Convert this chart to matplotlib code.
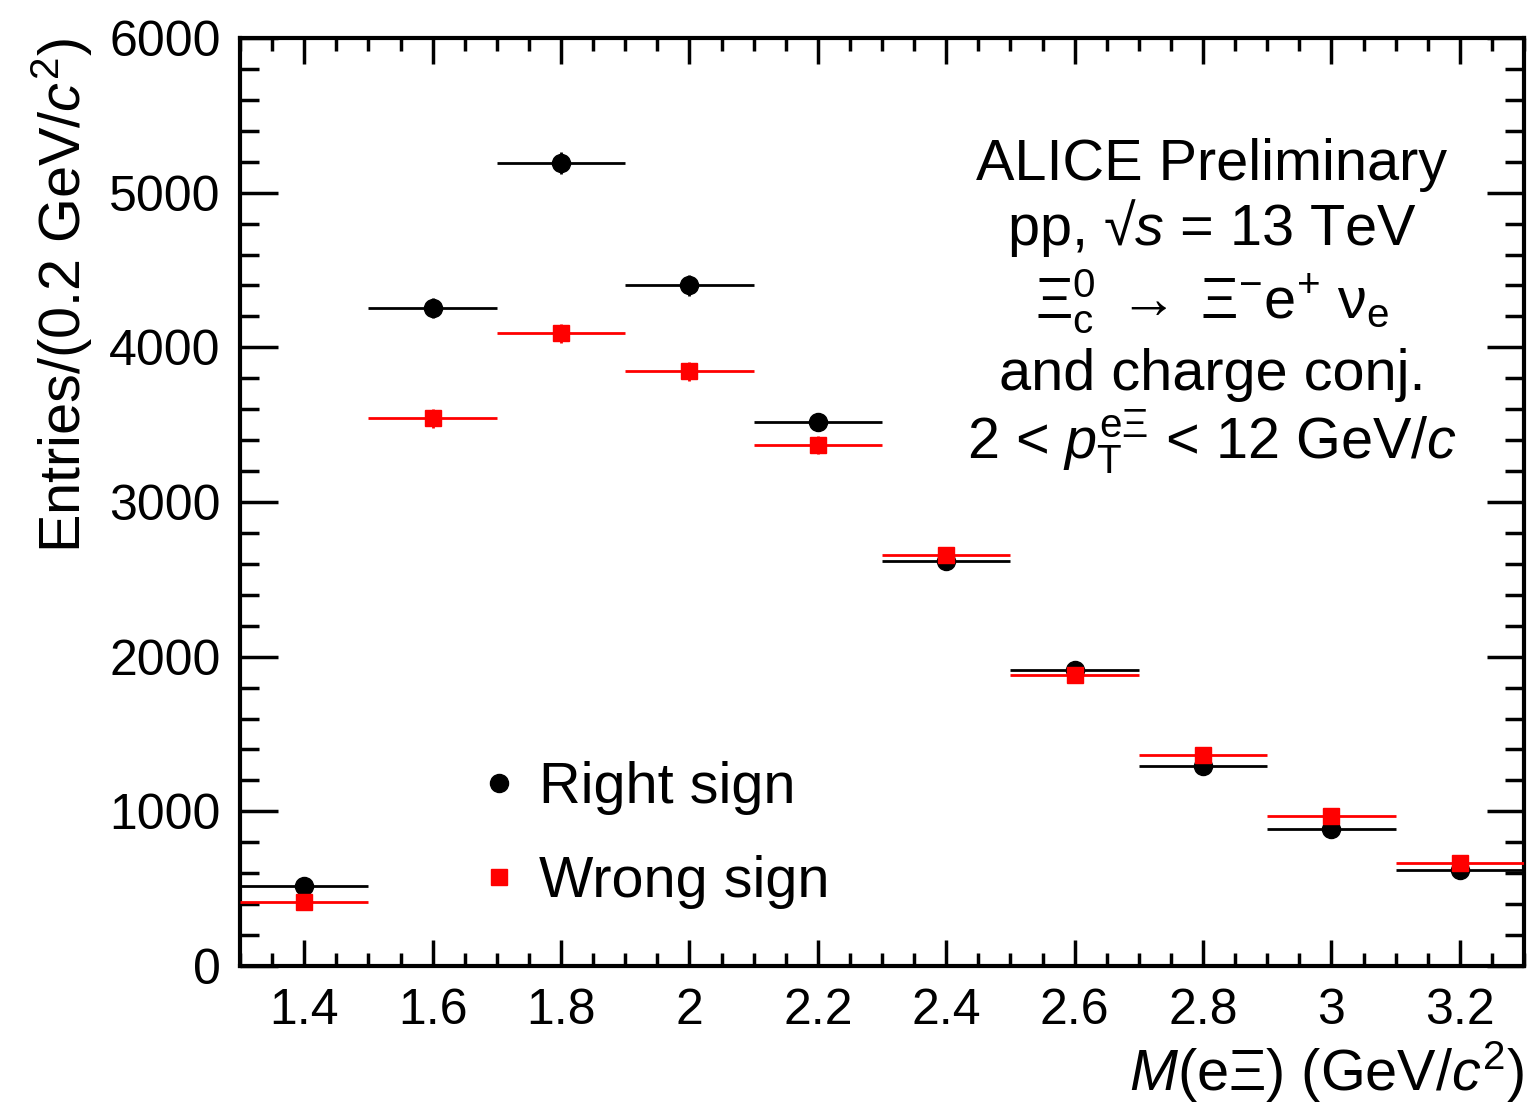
"""Xi_c0 -> Xi e nu: right-sign vs wrong-sign invariant mass (ALICE Preliminary)."""

import matplotlib
matplotlib.use("Agg")
import matplotlib.pyplot as plt
from matplotlib.lines import Line2D
from matplotlib.ticker import MultipleLocator, FuncFormatter

# bin centres (GeV/c^2) and half bin width
mass = [1.4, 1.6, 1.8, 2.0, 2.2, 2.4, 2.6, 2.8, 3.0, 3.2]
half_width = 0.1

right_sign = [515, 4255, 5190, 4400, 3515, 2620, 1915, 1295, 888, 622]
right_sign_err = [23, 65, 72, 66, 59, 51, 44, 36, 30, 25]

wrong_sign = [415, 3540, 4090, 3845, 3370, 2655, 1880, 1365, 970, 667]
wrong_sign_err = [20, 59, 64, 62, 58, 52, 43, 37, 31, 26]

plt.rcParams["font.family"] = ["Liberation Sans", "DejaVu Sans"]
plt.rcParams["mathtext.fontset"] = "custom"
plt.rcParams["mathtext.rm"] = "Liberation Sans"
plt.rcParams["mathtext.it"] = "Liberation Sans:italic"
plt.rcParams["mathtext.bf"] = "Liberation Sans:bold"

FS_TICK = 36
FS = 41.5

fig = plt.figure(figsize=(15.36, 11.15), dpi=100)
ax = fig.add_axes([240 / 1536, 1 - 966 / 1115, (1524 - 240) / 1536, (966 - 38) / 1115])

ax.errorbar(mass, right_sign, xerr=half_width, yerr=right_sign_err, fmt="o",
            color="black", ms=13, elinewidth=2, capsize=0, zorder=3)
ax.errorbar(mass, wrong_sign, xerr=half_width, yerr=wrong_sign_err, fmt="s",
            color="red", ms=12, elinewidth=2, capsize=0, zorder=4)

ax.set_xlim(1.3, 3.3)
ax.set_ylim(0, 6000)

ax.xaxis.set_major_locator(MultipleLocator(0.2))
ax.xaxis.set_minor_locator(MultipleLocator(0.05))
ax.yaxis.set_major_locator(MultipleLocator(1000))
ax.yaxis.set_minor_locator(MultipleLocator(200))
ax.xaxis.set_major_formatter(FuncFormatter(lambda v, p: f"{v:g}"))
ax.yaxis.set_major_formatter(FuncFormatter(lambda v, p: f"{v:.0f}"))

ax.tick_params(axis="both", which="both", direction="in", top=True, right=True,
               width=2.5, labelsize=FS_TICK, colors="black")
ax.tick_params(axis="x", which="major", length=19, pad=16)
ax.tick_params(axis="x", which="minor", length=9.5)
ax.tick_params(axis="y", which="major", length=27, pad=14)
ax.tick_params(axis="y", which="minor", length=13.5)
for sp in ax.spines.values():
    sp.set_linewidth(3)

ax.set_xlabel(r"$M$(e$\Xi$) (GeV/$c^{2}$)", fontsize=FS, loc="right", labelpad=4)
ax.set_ylabel(r"Entries/(0.2 GeV/$c^{2}$)", fontsize=FS, loc="top", labelpad=10)

# annotation block
xc = 0.757
lines = [
    ("ALICE Preliminary", 0.847),
    (r"pp, √$s$ = 13 TeV", 0.777),
    (r"$\Xi_{\mathrm{c}}^{0}\;\rightarrow\;\Xi^{\mathrm{-}}\mathrm{e}^{+}\ \mathrm{\nu}_{\mathrm{e}}$", 0.698),
    ("and charge conj.", 0.621),
    (r"2 < $p_{\mathrm{T}}^{\mathrm{e}\Xi}$ < 12 GeV/$c$", 0.547),
]
for txt, yy in lines:
    ax.text(xc, yy, txt, transform=ax.transAxes, ha="center", va="baseline", fontsize=FS)

handles = [
    Line2D([], [], marker="o", ls="none", color="black", ms=13),
    Line2D([], [], marker="s", ls="none", color="red", ms=12),
]
ax.legend(handles, ["Right sign", "Wrong sign"], loc="lower left",
          bbox_to_anchor=(0.168, 0.03), frameon=False, fontsize=FS,
          handlelength=0.5, handletextpad=0.45, labelspacing=0.7, borderpad=0)

fig.savefig("out.png", dpi=100)
